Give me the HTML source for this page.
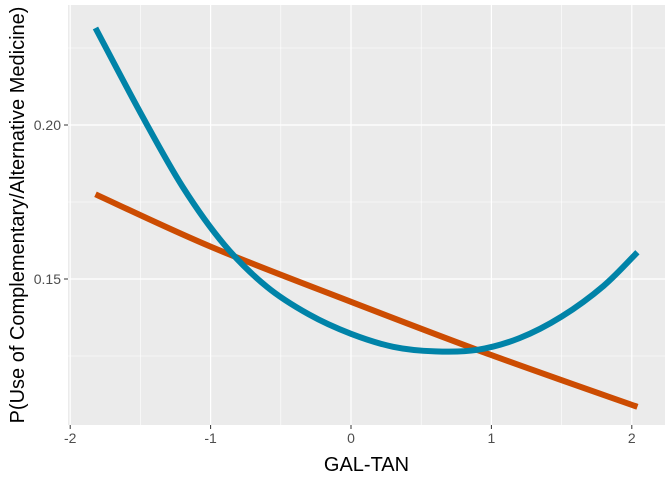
<!DOCTYPE html>
<html><head><meta charset="utf-8"><style>
body{margin:0;background:#fff;font-family:"Liberation Sans",sans-serif}
</style></head><body>
<svg id="chart" width="672" height="480" xmlns="http://www.w3.org/2000/svg"></svg>
<script>
const xTicks=[-2,-1,0,1,2];
const yTicks=[0.15,0.20];
const yTickLabels=["0.15","0.20"];
const linearX=[-1.82,-1,0,1,2.04];
const linearY=[0.1775,0.1605,0.1426,0.1253,0.1085];
const quadX=[-1.82,-1.5,-1.2,-0.9,-0.6,-0.3,0,0.3,0.6,0.9,1.2,1.5,1.8,2.04];
const quadY=[0.2315,0.2040,0.1800,0.1610,0.1475,0.1385,0.1322,0.1280,0.1265,0.1270,0.1308,0.1378,0.1478,0.1587];
const L=68,R=665,T=5,B=425;
const sx=v=>351+v*140.4;
const sy=v=>279-(v-0.15)*3080;
const ns="http://www.w3.org/2000/svg";
const svg=document.getElementById('chart');
function mk(t,a,p){const e=document.createElementNS(ns,t);for(const k in a)e.setAttribute(k,a[k]);(p||svg).appendChild(e);return e;}
const bg=mk('rect',{x:L,y:T,width:R-L,height:B-T,fill:'#ebebeb'});


for(let i=0;i<xTicks.length-1;i++){const v=(xTicks[i]+xTicks[i+1])/2;const g=mk('line',{x1:sx(v),x2:sx(v),y1:T,y2:B,stroke:'#fff','stroke-width':0.6});

}
[0.125,0.175,0.225].forEach(v=>{const g=mk('line',{x1:L,x2:R,y1:sy(v),y2:sy(v),stroke:'#fff','stroke-width':0.6});

});
xTicks.forEach(v=>{const g=mk('line',{x1:sx(v),x2:sx(v),y1:T,y2:B,stroke:'#fff','stroke-width':1.2});


mk('line',{x1:sx(v),x2:sx(v),y1:B,y2:B+4,stroke:'#333','stroke-width':1});
const t=mk('text',{x:sx(v),y:B+18,'text-anchor':'middle','font-size':14,fill:'#4d4d4d'});t.textContent=v;

});
yTicks.forEach((v,i)=>{const g=mk('line',{x1:L,x2:R,y1:sy(v),y2:sy(v),stroke:'#fff','stroke-width':1.2});


mk('line',{x1:L-4,x2:L,y1:sy(v),y2:sy(v),stroke:'#333','stroke-width':1});
const t=mk('text',{x:L-7,y:sy(v)+5,'text-anchor':'end','font-size':14,fill:'#4d4d4d'});t.textContent=yTickLabels[i];

});
function smooth(xs,ys,c,name){const P=xs.map((x,i)=>[sx(x),sy(ys[i])]);let d='M'+P[0];
for(let i=0;i<P.length-1;i++){const p0=P[i-1]||P[i],p1=P[i],p2=P[i+1],p3=P[i+2]||p2;
d+='C'+(p1[0]+(p2[0]-p0[0])/6)+','+(p1[1]+(p2[1]-p0[1])/6)+' '+(p2[0]-(p3[0]-p1[0])/6)+','+(p2[1]-(p3[1]-p1[1])/6)+' '+p2;}
const p=mk('path',{d:d,fill:'none',stroke:c,'stroke-width':6,'stroke-linejoin':'round'});

}
smooth(linearX,linearY,'#cc4c02','linear-fit-line');
smooth(quadX,quadY,'#0083a8','quadratic-fit-line');
const xt=mk('text',{x:(L+R)/2,y:471,'text-anchor':'middle','font-size':20,fill:'#000'});xt.textContent='GAL-TAN';


const yt=mk('text',{x:0,y:0,transform:'translate(24,215) rotate(-90)','text-anchor':'middle','font-size':20,fill:'#000'});yt.textContent='P(Use of Complementary/Alternative Medicine)';


</script>
</body></html>
